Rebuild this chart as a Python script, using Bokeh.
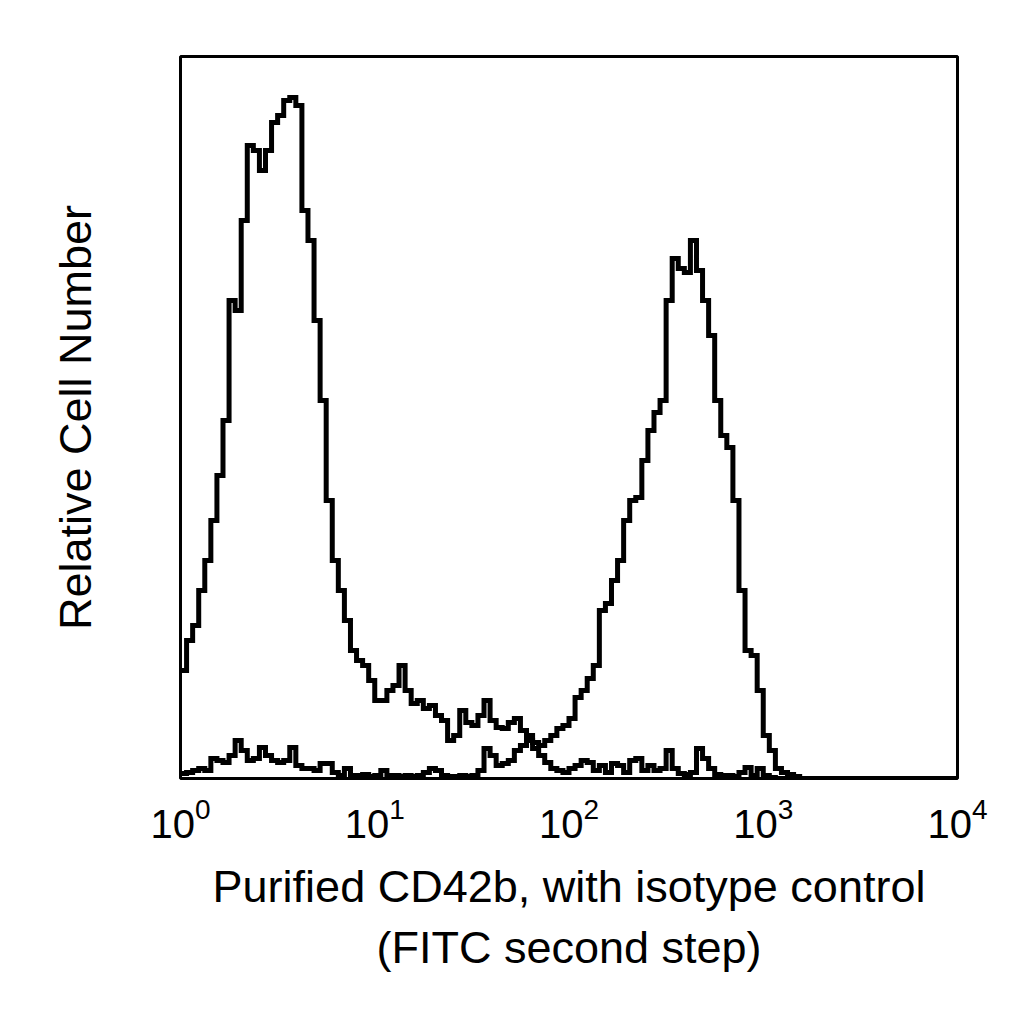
import numpy as np
from bokeh.plotting import figure
from bokeh.models import Range1d, FixedTicker
from bokeh.embed import file_html
from bokeh.resources import INLINE

# histogram channels: 32 per decade, starting at 10^0
CHANNELS_PER_DECADE = 32

cd42b_counts = [
    108, 138, 153, 188, 218, 258, 303, 358, 478, 468,
    558, 633, 628, 608, 628, 656, 663, 678, 681, 673,
    568, 538, 458, 378, 278, 218, 188, 158, 128, 118,
    113, 98, 78, 78, 88, 93, 113, 88, 75, 78,
    70, 73, 63, 58, 38, 43, 68, 56, 53, 63,
    78, 58, 51, 50, 56, 60, 48, 43, 36, 33,
    38, 43, 50, 53, 60, 81, 88, 100, 113, 168,
    175, 198, 218, 258, 278, 281, 318, 348, 366, 378,
    478, 520, 510, 506, 538, 508, 478, 443, 378, 343,
    331, 278, 188, 128, 123, 88, 43, 28, 10, 6,
    4, 2, 0,
]

isotype_counts = [
    5, 6, 8, 10, 8, 20, 18, 16, 23, 38,
    28, 18, 20, 31, 23, 18, 16, 18, 31, 13,
    10, 10, 8, 15, 15, 6, 3, 10, 3, 3,
    4, 2, 3, 8, 3, 3, 2, 3, 2, 3,
    6, 10, 8, 3, 2, 2, 3, 2, 3, 8,
    30, 23, 13, 15, 18, 28, 33, 38, 30, 23,
    16, 10, 8, 6, 10, 13, 18, 16, 8, 13,
    6, 15, 13, 6, 18, 20, 8, 13, 8, 10,
    28, 10, 5, 4, 6, 30, 20, 10, 4, 3,
    3, 2, 6, 11, 3, 10, 3, 1, 0,
]

decade_ticks = [1, 10, 100, 1000, 10000]
y_max = 722

x_label = "Purified CD42b, with isotype control\n(FITC second step)"
y_label = "Relative Cell Number"

FONT = "Liberation Sans"
N_BINS = 4 * CHANNELS_PER_DECADE


def step_xy(counts):
    vals = list(counts) + [0] * (N_BINS - len(counts))
    edges = 10 ** (np.arange(N_BINS + 1) / CHANNELS_PER_DECADE)
    return edges, vals + [vals[-1]]


p = figure(width=1008, height=1008, x_axis_type="log",
           x_range=Range1d(1, 10000), y_range=Range1d(0, y_max),
           output_backend="svg", toolbar_location=None,
           min_border_left=180, min_border_right=51,
           min_border_top=56, min_border_bottom=230)
p.frame_width = 777
p.frame_height = 722

for counts in (isotype_counts, cd42b_counts):
    xs, ys = step_xy(counts)
    p.step(xs, ys, mode="after", line_color="black", line_width=5,
           line_join="miter")

p.grid.visible = False
p.outline_line_color = "black"
p.outline_line_width = 3

p.xaxis.ticker = FixedTicker(ticks=decade_ticks, minor_ticks=[])
p.xaxis.axis_line_color = None
p.xaxis.major_tick_line_color = None
p.xaxis.minor_tick_line_color = None
p.xaxis.major_label_text_font = FONT
p.xaxis.major_label_text_font_size = "40px"
p.xaxis.major_label_text_color = "black"
p.xaxis.major_label_standoff = 12
p.xaxis.axis_label = x_label
p.xaxis.axis_label_text_font = FONT
p.xaxis.axis_label_text_font_size = "45px"
p.xaxis.axis_label_text_font_style = "normal"
p.xaxis.axis_label_text_color = "black"
p.xaxis.axis_label_standoff = 20

p.yaxis.ticker = FixedTicker(ticks=[], minor_ticks=[])
p.yaxis.axis_line_color = None
p.yaxis.major_tick_line_color = None
p.yaxis.minor_tick_line_color = None
p.yaxis.axis_label = y_label
p.yaxis.axis_label_text_font = FONT
p.yaxis.axis_label_text_font_size = "45px"
p.yaxis.axis_label_text_font_style = "normal"
p.yaxis.axis_label_text_color = "black"
p.yaxis.axis_label_standoff = 80

open("out.html", "w").write(file_html(p, INLINE))
